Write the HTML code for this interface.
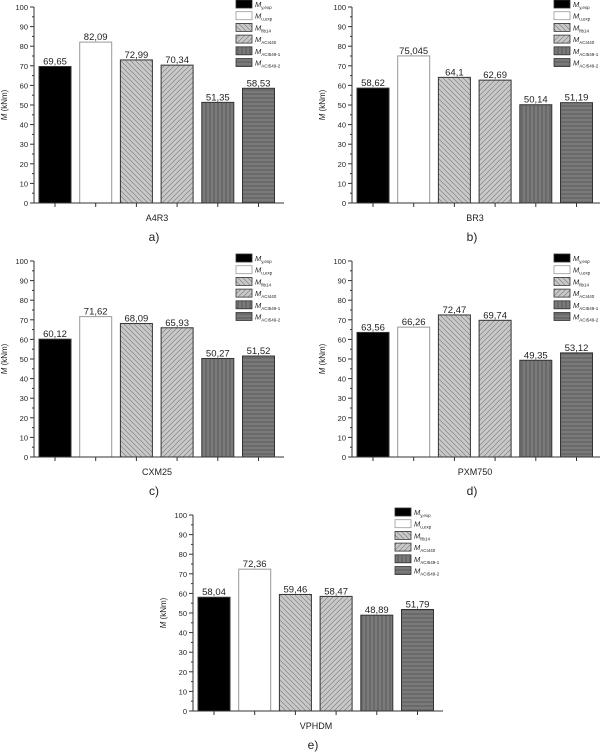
<!DOCTYPE html>
<html><head><meta charset="utf-8"><style>
html,body{margin:0;padding:0;background:#fff;width:600px;height:755px;overflow:hidden}
svg{font-family:"Liberation Sans",Arial,sans-serif}
</style></head><body>
<svg id="c" width="600" height="755" viewBox="0 0 600 755" xmlns="http://www.w3.org/2000/svg">
<defs>
<pattern id="pBack" width="5" height="5" patternUnits="userSpaceOnUse"><rect width="5" height="5" fill="#c8c8c8"/><path d="M-1,-1 L6,6 M-1,4 L1,6 M4,-1 L6,1" stroke="#777" stroke-width="0.6"/></pattern>
<pattern id="pFwd" width="5" height="5" patternUnits="userSpaceOnUse"><rect width="5" height="5" fill="#c8c8c8"/><path d="M-1,6 L6,-1 M-1,1 L1,-1 M4,6 L6,4" stroke="#777" stroke-width="0.6"/></pattern>
<pattern id="pVert" width="4" height="4" patternUnits="userSpaceOnUse"><rect width="4" height="4" fill="#7a7a7a"/><path d="M2,0 L2,4" stroke="#4a4a4a" stroke-width="0.7"/></pattern>
<pattern id="pHor" width="4" height="4" patternUnits="userSpaceOnUse"><rect width="4" height="4" fill="#7a7a7a"/><path d="M0,2 L4,2" stroke="#4a4a4a" stroke-width="0.7"/></pattern>
</defs>
</svg>
<script>
const seriesNames=["y,exp","u,exp","fib14","ACI440","ACI549-1","ACI549-2"];
const specimens=["A4R3","BR3","CXM25","PXM750","VPHDM"];
const panelLetters=["a)","b)","c)","d)","e)"];
const valsA=[69.65,82.09,72.99,70.34,51.35,58.53];
const valsB=[58.62,75.045,64.1,62.69,50.14,51.19];
const valsC=[60.12,71.62,68.09,65.93,50.27,51.52];
const valsD=[63.56,66.26,72.47,69.74,49.35,53.12];
const valsE=[58.04,72.36,59.46,58.47,48.89,51.79];
const labelsA=["69,65","82,09","72,99","70,34","51,35","58,53"];
const labelsB=["58,62","75,045","64,1","62,69","50,14","51,19"];
const labelsC=["60,12","71,62","68,09","65,93","50,27","51,52"];
const labelsD=["63,56","66,26","72,47","69,74","49,35","53,12"];
const labelsE=["58,04","72,36","59,46","58,47","48,89","51,79"];
const yTicks=[0,10,20,30,40,50,60,70,80,90,100];
const allVals=[valsA,valsB,valsC,valsD,valsE];
const allLabels=[labelsA,labelsB,labelsC,labelsD,labelsE];
const fills=["#000","#fff","url(#pBack)","url(#pFwd)","url(#pVert)","url(#pHor)"];
const panelPos=[[34,203],[352,203],[34,457],[352,457],[193,711]];
const svg=document.getElementById('c');
const NS="http://www.w3.org/2000/svg";
function mk(tag,attrs,parent){const e=document.createElementNS(NS,tag);for(const k in attrs)e.setAttribute(k,attrs[k]);parent.appendChild(e);return e;}
const H=196, PITCH=40.7, BW=32, W=250;
for(let p=0;p<5;p++){
  const [ax,y0]=panelPos[p];
  const yS=v=>y0-v/100*H;
  const xS=i=>ax+5+i*PITCH;
  const g=mk('g',{},svg);
  
  
  allVals[p].forEach((v,i)=>{
    const r=mk('rect',{x:xS(i),y:yS(v),width:BW,height:y0-yS(v),fill:fills[i],stroke:i===1?'#999':'#333','stroke-width':1},g);
    
    
    const t=mk('text',{x:xS(i)+BW/2,y:yS(v)-2,'font-size':9.5,'text-anchor':'middle',fill:'#222'},g);
    t.textContent=allLabels[p][i];
    
    
    mk('line',{x1:xS(i)+BW/2,x2:xS(i)+BW/2,y1:y0,y2:y0+4,stroke:'#333'},g);
  });
  const ya=mk('line',{x1:ax,x2:ax,y1:yS(100),y2:y0,stroke:'#333'},g);
  
  
  const xa=mk('line',{x1:ax,x2:ax+W,y1:y0,y2:y0,stroke:'#333'},g);
  
  
  for(let v=0;v<=100;v+=5){mk('line',{x1:ax-(v%10?2:4),x2:ax,y1:yS(v),y2:yS(v),stroke:'#333'},g);}
  yTicks.forEach(v=>{const t=mk('text',{x:ax-6,y:yS(v)+3,'font-size':7.5,'text-anchor':'end',fill:'#222'},g);t.textContent=v;
    
    });
  const yl=mk('text',{x:ax-27,y:y0-H/2,'font-size':8,'text-anchor':'middle',fill:'#222',transform:`rotate(-90 ${ax-27} ${y0-H/2})`},g);
  yl.innerHTML='<tspan font-style="italic">M</tspan> (kNm)';
  
  
  const xl=mk('text',{x:ax+123,y:y0+18,'font-size':9,'text-anchor':'middle',fill:'#222'},g);
  xl.textContent=specimens[p];
  
  
  const pl=mk('text',{x:ax+120,y:y0+38,'font-size':12,'text-anchor':'middle',fill:'#222'},g);
  pl.textContent=panelLetters[p];
  
  
  const lx=ax+202, ly=y0-H-7;
  seriesNames.forEach((n,i)=>{
    const yy=ly+i*11.7;
    const b=mk('rect',{x:lx,y:yy,width:16,height:8,fill:fills[i],stroke:i===1?'#999':'#333','stroke-width':0.8},g);
    
    
    const t=mk('text',{x:lx+19,y:yy+7,'font-size':7.5,fill:'#222'},g);
    t.innerHTML='<tspan font-style="italic">M</tspan><tspan font-size="4.5" dy="2">'+n+'</tspan>';
    
    
  });
}
</script>
</body></html>
